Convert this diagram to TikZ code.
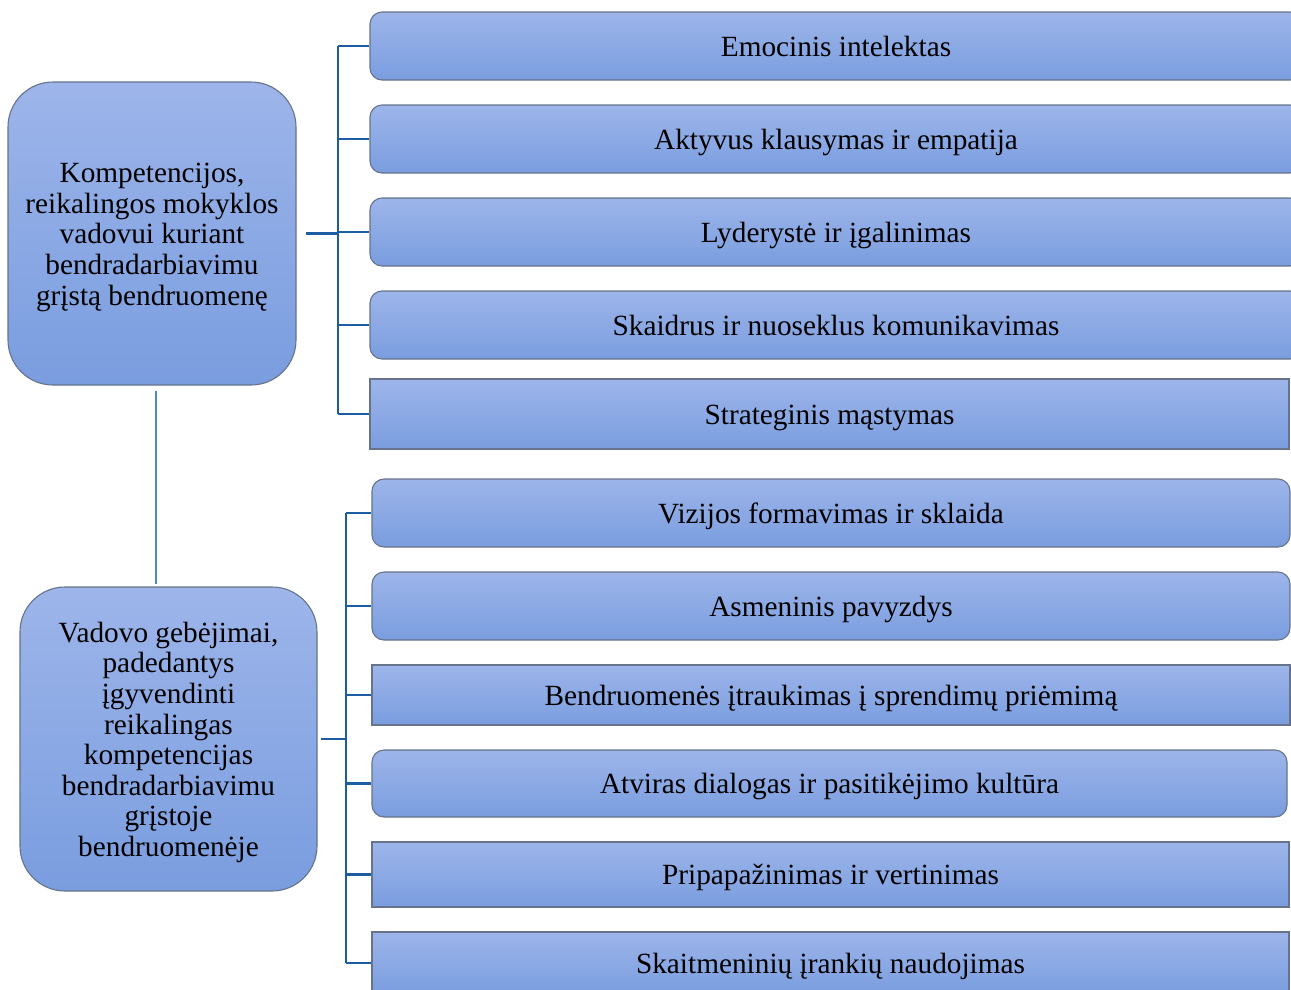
\documentclass[tikz,border=0pt]{standalone}
\usepackage{fontspec}
\setmainfont{Liberation Serif}
\definecolor{boxtop}{HTML}{9DB5EA}
\definecolor{boxbot}{HTML}{7A9DDF}
\definecolor{boxline}{HTML}{66738A}
\definecolor{conn}{HTML}{1B5CA3}
\definecolor{thin}{HTML}{4A8CCB}
\newcommand{\firstup}{\rule{0pt}{27pt}}
\tikzset{
  px/.style={x=1pt,y=-1pt},
  item/.style={draw=boxline,line width=1.1pt,top color=boxtop,bottom color=boxbot,
    inner sep=0pt,text height=26pt,text depth=6pt,font=\fontsize{29.3}{30.6}\selectfont},
  ritem/.style={item,rounded corners=12pt},
  big/.style={draw=boxline,line width=1.1pt,top color=boxtop,bottom color=boxbot,
    rounded corners=45pt,align=center,inner sep=0pt,font=\fontsize{29.3}{30.6}\selectfont},
  trunk/.style={draw=conn,line width=2.6pt},
  thinline/.style={draw=thin,line width=1.3pt},
}
\newcommand{\boxat}[6]{% name, style, x1, y1, x2, y2 ; text after
  \node[#2,minimum width={(#5)-(#3)},minimum height={(#6)-(#4)}] (#1) at ({((#3)+(#5))/2},{((#4)+(#6))/2})}
\begin{document}
\begin{tikzpicture}[px]
\useasboundingbox (0,0) rectangle (1291,989);
\clip (0,0) rectangle (1291,989);
% left boxes
\node[big,minimum width=288pt,minimum height=303pt] (k) at (152,233.5)
  {\firstup Kompetencijos,\\reikalingos mokyklos\\vadovui kuriant\\bendradarbiavimu\\grįstą bendruomenę};
\node[big,minimum width=297pt,minimum height=304pt] (v) at (168.5,739)
  {\firstup Vadovo gebėjimai,\\padedantys\\įgyvendinti\\reikalingas\\kompetencijas\\bendradarbiavimu\\grįstoje\\bendruomenėje};
% top group
\boxat{e1}{ritem}{370}{12}{1302}{80} {Emocinis intelektas};
\boxat{e2}{ritem}{370}{105}{1302}{173} {Aktyvus klausymas ir empatija};
\boxat{e3}{ritem}{370}{198}{1302}{266} {Lyderystė ir įgalinimas};
\boxat{e4}{ritem}{370}{291}{1302}{359} {Skaidrus ir nuoseklus komunikavimas};
\boxat{e5}{item}{370}{379}{1289}{449} {Strateginis mąstymas};
% bottom group
\boxat{f1}{ritem}{372}{479}{1290}{547} {Vizijos formavimas ir sklaida};
\boxat{f2}{ritem}{372}{572}{1290}{640} {Asmeninis pavyzdys};
\boxat{f3}{item}{372}{665}{1290}{725} {Bendruomenės įtraukimas į sprendimų priėmimą};
\boxat{f4}{ritem}{372}{750}{1287}{817} {Atviras dialogas ir pasitikėjimo kultūra};
\boxat{f5}{item}{372}{842}{1289}{907} {Pripapažinimas ir vertinimas};
\boxat{f6}{item}{372}{932}{1289}{994} {Skaitmeninių įrankių naudojimas};
% trunks
\coordinate (ta) at (338,0);
\coordinate (tb) at (346,0);
\coordinate (vl) at (156,0);
\draw[trunk] (e1.west -| ta) -- (e5.west -| ta);
\foreach \n in {e1,e2,e3,e4,e5} \draw[trunk] (\n.west -| ta) -- (\n.west);
\draw[trunk] ([xshift=9pt]k.east) -- (k.east -| ta);
\draw[trunk] (f1.west -| tb) -- (f6.west -| tb);
\foreach \n in {f1,f2,f3,f4,f5,f6} \draw[trunk] (\n.west -| tb) -- (\n.west);
\draw[trunk] ([xshift=3pt]v.east) -- (v.east -| tb);
\draw[thinline] ([yshift=-5pt]k.south -| vl) -- ([yshift=2pt]v.north -| vl);
\end{tikzpicture}
\end{document}
